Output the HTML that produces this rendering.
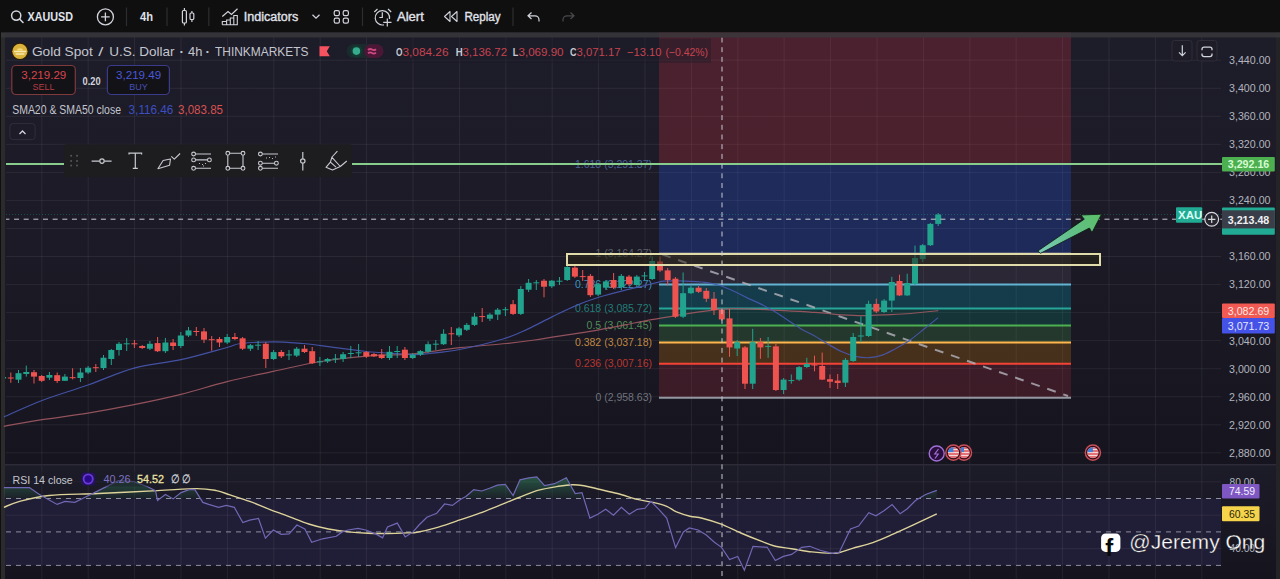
<!DOCTYPE html>
<html><head><meta charset="utf-8"><title>XAUUSD chart</title>
<style>
html,body{margin:0;padding:0;background:#0f0f0f;overflow:hidden;width:1280px;height:579px}
svg{display:block;font-family:'Liberation Sans', Arial, sans-serif}
</style></head><body>
<svg width="1280" height="579" viewBox="0 0 1280 579">
<rect x="0" y="0" width="1280" height="579" fill="#0f0f0f"/>
<rect x="1" y="32.5" width="1279" height="546.5" fill="#2b2b2e"/>
<defs><linearGradient id="bgm" x1="0" y1="37" x2="0" y2="464" gradientUnits="userSpaceOnUse"><stop offset="0" stop-color="#1d1c29"/><stop offset="0.35" stop-color="#1c1b27"/><stop offset="1" stop-color="#16151f"/></linearGradient><linearGradient id="bgr" x1="0" y1="465" x2="0" y2="579" gradientUnits="userSpaceOnUse"><stop offset="0" stop-color="#1c1b28"/><stop offset="1" stop-color="#15141e"/></linearGradient></defs>
<rect x="5" y="32.5" width="1271" height="431.5" fill="url(#bgm)"/>
<rect x="5" y="464" width="1271" height="115" fill="url(#bgr)"/>
<rect x="1276" y="32.5" width="4" height="546.5" fill="#242427"/>
<rect x="5" y="498.5" width="1216" height="66.89999999999998" fill="#211e38" fill-opacity="0.95"/>
<path d="M41.8 37.5V464M41.8 465V579M88.2 37.5V464M88.2 465V579M134.6 37.5V464M134.6 465V579M181.0 37.5V464M181.0 465V579M227.4 37.5V464M227.4 465V579M273.8 37.5V464M273.8 465V579M320.2 37.5V464M320.2 465V579M366.6 37.5V464M366.6 465V579M413.0 37.5V464M413.0 465V579M459.4 37.5V464M459.4 465V579M505.8 37.5V464M505.8 465V579M552.2 37.5V464M552.2 465V579M598.6 37.5V464M598.6 465V579M645.0 37.5V464M645.0 465V579M691.4 37.5V464M691.4 465V579M737.8 37.5V464M737.8 465V579M784.2 37.5V464M784.2 465V579M830.6 37.5V464M830.6 465V579M877.0 37.5V464M877.0 465V579M923.4 37.5V464M923.4 465V579M969.8 37.5V464M969.8 465V579M1016.2 37.5V464M1016.2 465V579M1062.6 37.5V464M1062.6 465V579M1109.0 37.5V464M1109.0 465V579M1155.4 37.5V464M1155.4 465V579M1201.8 37.5V464M1201.8 465V579M6 452.8H1221M6 424.8H1221M6 396.7H1221M6 368.7H1221M6 340.6H1221M6 312.6H1221M6 284.6H1221M6 256.5H1221M6 228.5H1221M6 200.4H1221M6 172.4H1221M6 144.3H1221M6 116.3H1221M6 88.3H1221M6 60.2H1221M6 481.8H1221M6 515.2H1221M6 548.7H1221" stroke="#ffffff" stroke-opacity="0.065" stroke-width="1" fill="none"/>
<rect x="5" y="464" width="1271" height="1.5" fill="#2c2b36"/>
<rect x="659" y="32.5" width="412" height="131.9" fill="#f23645" fill-opacity="0.22"/>
<rect x="659" y="164.4" width="412" height="89.1" fill="#2962ff" fill-opacity="0.24"/>
<rect x="659" y="253.5" width="412" height="30.9" fill="#8a7a9a" fill-opacity="0.15"/>
<rect x="659" y="284.4" width="412" height="24.2" fill="#00bcd4" fill-opacity="0.22"/>
<rect x="659" y="308.6" width="412" height="17.0" fill="#089981" fill-opacity="0.22"/>
<rect x="659" y="325.6" width="412" height="17.0" fill="#4caf50" fill-opacity="0.22"/>
<rect x="659" y="342.6" width="412" height="21.0" fill="#ff9800" fill-opacity="0.2"/>
<rect x="659" y="363.7" width="412" height="34.0" fill="#f23645" fill-opacity="0.17"/>
<line x1="659" y1="253.5" x2="1071" y2="253.5" stroke="#787b86" stroke-width="2"/>
<line x1="659" y1="284.4" x2="1071" y2="284.4" stroke="#62b4d2" stroke-width="2"/>
<line x1="659" y1="308.6" x2="1071" y2="308.6" stroke="#26a69a" stroke-width="2"/>
<line x1="659" y1="325.6" x2="1071" y2="325.6" stroke="#4caf50" stroke-width="2"/>
<line x1="659" y1="342.6" x2="1071" y2="342.6" stroke="#ffb74d" stroke-width="2"/>
<line x1="659" y1="363.7" x2="1071" y2="363.7" stroke="#f44336" stroke-width="2"/>
<line x1="659" y1="397.7" x2="1071" y2="397.7" stroke="#9598a1" stroke-width="2"/>
<text x="652" y="257.3252311000004" font-size="10.5" fill="#787b86" text-anchor="end" fill-opacity="0.72">1 (3,164.27)</text>
<text x="652" y="288.1771905471999" font-size="10.5" fill="#4fc3f7" text-anchor="end" fill-opacity="0.72">0.786 (3,122.27)</text>
<text x="652" y="312.39742039360027" font-size="10.5" fill="#26a69a" text-anchor="end" fill-opacity="0.72">0.618 (3,085.72)</text>
<text x="652" y="329.40924849999993" font-size="10.5" fill="#66bb6a" text-anchor="end" fill-opacity="0.72">0.5 (3,061.45)</text>
<text x="652" y="346.42107660640005" font-size="10.5" fill="#ffb74d" text-anchor="end" fill-opacity="0.72">0.382 (3,037.18)</text>
<text x="652" y="367.46960968720015" font-size="10.5" fill="#f44336" text-anchor="end" fill-opacity="0.72">0.236 (3,007.16)</text>
<text x="652" y="401.4932658999999" font-size="10.5" fill="#9598a1" text-anchor="end" fill-opacity="0.72">0 (2,958.63)</text>
<text x="652" y="168.22938559360028" font-size="10.5" fill="#5d7fc0" text-anchor="end" fill-opacity="0.72">1.618 (3,291.37)</text>
<line x1="662" y1="254.4" x2="1068" y2="396" stroke="#b4b4bc" stroke-width="2" stroke-dasharray="9 8" opacity="0.8"/>
<path d="M3.8 426.3C10.1 425.2 28.0 421.9 42.0 419.7C56.0 417.5 72.7 415.6 88.0 413.1C103.3 410.6 118.5 407.8 134.0 404.7C149.5 401.6 165.5 398.2 181.0 394.4C196.5 390.5 211.5 385.5 227.0 381.6C242.5 377.7 258.6 374.5 274.2 371.1C289.8 367.8 305.5 364.0 320.9 361.5C336.3 359.0 356.6 357.2 366.5 356.2C376.4 355.1 372.2 355.6 380.0 355.2C387.8 354.8 399.9 355.1 413.2 353.9C426.4 352.6 444.0 349.4 459.5 347.7C475.0 346.0 493.7 344.8 506.2 343.5C518.7 342.2 524.0 341.5 534.5 340.0C545.0 338.5 558.3 336.3 569.0 334.6C579.7 332.9 589.6 331.4 598.8 329.8C608.0 328.2 616.7 326.5 624.4 325.0C632.1 323.5 638.4 322.0 645.0 320.8C651.6 319.6 657.2 318.8 663.8 317.7C670.4 316.6 677.6 315.3 684.5 314.2C691.4 313.1 699.5 312.0 705.3 311.2C711.1 310.4 714.5 309.8 719.1 309.4C723.7 309.0 726.0 308.7 732.9 308.7C739.8 308.7 751.3 309.0 760.5 309.4C769.7 309.8 780.0 310.4 788.2 310.8C796.5 311.2 803.4 311.7 810.0 312.1C816.6 312.6 822.4 313.0 827.6 313.5C832.9 314.0 835.7 314.5 841.5 314.9C847.3 315.2 855.3 315.6 862.2 315.6C869.1 315.6 874.9 315.2 882.9 314.9C890.9 314.5 901.3 314.2 910.5 313.5C919.7 312.8 933.6 311.2 938.2 310.7" fill="none" stroke="#a05862" stroke-width="1.2" opacity="0.9"/>
<path d="M4.0 416.9C10.3 414.2 28.0 405.8 42.0 400.5C56.0 395.2 72.7 390.4 88.0 385.0C103.3 379.6 118.5 372.3 134.0 368.1C149.5 363.9 165.5 363.1 181.0 359.7C196.5 356.3 217.0 350.2 227.0 347.5C237.0 344.8 233.1 344.4 241.0 343.5C248.9 342.6 263.9 341.8 274.2 341.8C284.5 341.8 295.1 342.9 302.9 343.5C310.7 344.1 312.8 344.6 320.9 345.6C329.0 346.6 343.7 348.7 351.3 349.7C358.9 350.7 361.7 351.0 366.5 351.5C371.3 352.0 372.2 352.0 380.0 352.5C387.8 353.0 404.9 354.4 413.2 354.6C421.5 354.8 422.3 354.4 430.0 353.5C437.7 352.6 447.3 351.9 459.5 349.5C471.7 347.1 491.6 342.4 503.0 339.0C514.4 335.6 519.4 332.8 527.6 329.1C535.9 325.4 544.4 320.5 552.5 316.6C560.6 312.7 568.3 308.8 576.0 305.6C583.7 302.4 590.7 299.8 598.8 297.3C606.9 294.8 616.7 292.3 624.4 290.4C632.1 288.4 638.4 287.2 645.0 285.6C651.6 284.1 657.2 281.9 663.8 281.1C670.4 280.4 677.6 280.9 684.5 281.1C691.4 281.3 699.5 281.7 705.3 282.4C711.1 283.1 714.5 283.8 719.1 285.2C723.7 286.6 728.3 288.6 732.9 290.7C737.5 292.8 742.1 295.4 746.7 297.6C751.3 299.8 755.9 301.6 760.5 303.9C765.1 306.2 769.8 308.8 774.4 311.5C779.0 314.2 783.6 317.4 788.2 320.4C792.8 323.4 797.7 326.9 802.0 329.4C806.3 331.9 809.5 333.2 813.8 335.6C818.1 338.0 823.0 341.2 827.6 343.9C832.2 346.5 836.9 349.4 841.5 351.5C846.1 353.6 850.7 355.3 855.3 356.3C859.9 357.3 864.5 357.9 869.1 357.7C873.7 357.5 878.3 356.5 882.9 354.9C887.5 353.3 892.1 350.5 896.7 348.0C901.3 345.5 905.9 342.9 910.5 339.7C915.1 336.5 919.8 332.4 924.4 328.7C929.0 325.0 935.9 319.5 938.2 317.6" fill="none" stroke="#4858b0" stroke-width="1.2" opacity="0.9"/>
<clipPath id="cc"><rect x="5" y="32.5" width="1216" height="432"/></clipPath><g clip-path="url(#cc)">
<rect x="2.6" y="374.0" width="1" height="7.0" fill="#22a38e"/>
<rect x="0.1" y="377.0" width="6" height="1.5" fill="#22a38e"/>
<rect x="10.3" y="372.5" width="1" height="10.3" fill="#ef5350"/>
<rect x="7.8" y="377.5" width="6" height="1.0" fill="#ef5350"/>
<rect x="18.0" y="370.0" width="1" height="13.0" fill="#22a38e"/>
<rect x="15.5" y="373.2" width="6" height="6.5" fill="#22a38e"/>
<rect x="25.8" y="365.6" width="1" height="11.0" fill="#22a38e"/>
<rect x="23.3" y="372.0" width="6" height="2.0" fill="#22a38e"/>
<rect x="33.5" y="370.0" width="1" height="13.5" fill="#ef5350"/>
<rect x="31.0" y="372.2" width="6" height="4.4" fill="#ef5350"/>
<rect x="41.2" y="375.0" width="1" height="7.0" fill="#ef5350"/>
<rect x="38.7" y="376.0" width="6" height="4.8" fill="#ef5350"/>
<rect x="48.9" y="372.0" width="1" height="8.0" fill="#22a38e"/>
<rect x="46.4" y="375.0" width="6" height="2.7" fill="#22a38e"/>
<rect x="56.7" y="372.5" width="1" height="10.5" fill="#ef5350"/>
<rect x="54.2" y="375.2" width="6" height="5.8" fill="#ef5350"/>
<rect x="64.4" y="374.0" width="1" height="7.0" fill="#22a38e"/>
<rect x="61.9" y="376.6" width="6" height="4.2" fill="#22a38e"/>
<rect x="72.1" y="368.3" width="1" height="11.1" fill="#ef5350"/>
<rect x="69.6" y="377.2" width="6" height="1.0" fill="#ef5350"/>
<rect x="79.9" y="368.0" width="1" height="14.0" fill="#22a38e"/>
<rect x="77.4" y="372.5" width="6" height="5.5" fill="#22a38e"/>
<rect x="87.6" y="366.0" width="1" height="8.0" fill="#22a38e"/>
<rect x="85.1" y="367.7" width="6" height="4.8" fill="#22a38e"/>
<rect x="95.3" y="364.0" width="1" height="8.0" fill="#ef5350"/>
<rect x="92.8" y="367.2" width="6" height="1.0" fill="#ef5350"/>
<rect x="103.0" y="355.0" width="1" height="15.0" fill="#22a38e"/>
<rect x="100.5" y="357.7" width="6" height="10.3" fill="#22a38e"/>
<rect x="110.8" y="349.0" width="1" height="16.0" fill="#22a38e"/>
<rect x="108.3" y="350.0" width="6" height="9.0" fill="#22a38e"/>
<rect x="118.5" y="342.0" width="1" height="13.6" fill="#22a38e"/>
<rect x="116.0" y="343.8" width="6" height="6.2" fill="#22a38e"/>
<rect x="126.2" y="338.0" width="1" height="13.0" fill="#22a38e"/>
<rect x="123.7" y="343.3" width="6" height="1.0" fill="#22a38e"/>
<rect x="133.9" y="340.0" width="1" height="8.0" fill="#ef5350"/>
<rect x="131.4" y="343.3" width="6" height="1.0" fill="#ef5350"/>
<rect x="141.7" y="345.0" width="1" height="4.0" fill="#ef5350"/>
<rect x="139.2" y="346.0" width="6" height="2.0" fill="#ef5350"/>
<rect x="149.4" y="341.0" width="1" height="9.0" fill="#22a38e"/>
<rect x="146.9" y="343.8" width="6" height="4.9" fill="#22a38e"/>
<rect x="157.1" y="337.0" width="1" height="15.0" fill="#ef5350"/>
<rect x="154.6" y="343.1" width="6" height="8.1" fill="#ef5350"/>
<rect x="164.9" y="338.0" width="1" height="15.0" fill="#22a38e"/>
<rect x="162.4" y="342.5" width="6" height="8.7" fill="#22a38e"/>
<rect x="172.6" y="339.0" width="1" height="11.0" fill="#ef5350"/>
<rect x="170.1" y="342.5" width="6" height="3.5" fill="#ef5350"/>
<rect x="180.3" y="332.0" width="1" height="16.0" fill="#22a38e"/>
<rect x="177.8" y="335.5" width="6" height="10.5" fill="#22a38e"/>
<rect x="188.0" y="327.0" width="1" height="10.0" fill="#22a38e"/>
<rect x="185.5" y="330.4" width="6" height="5.1" fill="#22a38e"/>
<rect x="195.8" y="327.0" width="1" height="9.0" fill="#ef5350"/>
<rect x="193.3" y="331.0" width="6" height="1.0" fill="#ef5350"/>
<rect x="203.5" y="328.0" width="1" height="15.0" fill="#ef5350"/>
<rect x="201.0" y="331.4" width="6" height="8.3" fill="#ef5350"/>
<rect x="211.2" y="336.0" width="1" height="14.7" fill="#ef5350"/>
<rect x="208.7" y="339.2" width="6" height="1.0" fill="#ef5350"/>
<rect x="219.0" y="337.0" width="1" height="10.0" fill="#ef5350"/>
<rect x="216.5" y="339.0" width="6" height="3.5" fill="#ef5350"/>
<rect x="226.7" y="334.0" width="1" height="10.0" fill="#22a38e"/>
<rect x="224.2" y="337.0" width="6" height="5.5" fill="#22a38e"/>
<rect x="234.4" y="333.0" width="1" height="7.0" fill="#ef5350"/>
<rect x="231.9" y="337.0" width="6" height="2.0" fill="#ef5350"/>
<rect x="242.1" y="337.0" width="1" height="13.0" fill="#ef5350"/>
<rect x="239.6" y="338.3" width="6" height="10.4" fill="#ef5350"/>
<rect x="249.9" y="344.0" width="1" height="7.0" fill="#22a38e"/>
<rect x="247.4" y="345.2" width="6" height="3.5" fill="#22a38e"/>
<rect x="257.6" y="341.0" width="1" height="9.0" fill="#22a38e"/>
<rect x="255.1" y="344.7" width="6" height="1.0" fill="#22a38e"/>
<rect x="265.3" y="342.0" width="1" height="26.0" fill="#ef5350"/>
<rect x="262.8" y="343.8" width="6" height="15.2" fill="#ef5350"/>
<rect x="273.1" y="350.0" width="1" height="10.0" fill="#22a38e"/>
<rect x="270.6" y="352.1" width="6" height="6.9" fill="#22a38e"/>
<rect x="280.8" y="350.0" width="1" height="8.0" fill="#ef5350"/>
<rect x="278.3" y="352.0" width="6" height="4.3" fill="#ef5350"/>
<rect x="288.5" y="350.0" width="1" height="10.0" fill="#22a38e"/>
<rect x="286.0" y="354.4" width="6" height="1.0" fill="#22a38e"/>
<rect x="296.2" y="347.0" width="1" height="10.0" fill="#22a38e"/>
<rect x="293.7" y="348.7" width="6" height="6.9" fill="#22a38e"/>
<rect x="304.0" y="345.0" width="1" height="8.0" fill="#ef5350"/>
<rect x="301.5" y="348.7" width="6" height="3.3" fill="#ef5350"/>
<rect x="311.7" y="347.0" width="1" height="17.0" fill="#ef5350"/>
<rect x="309.2" y="351.2" width="6" height="12.0" fill="#ef5350"/>
<rect x="319.4" y="357.0" width="1" height="9.0" fill="#22a38e"/>
<rect x="316.9" y="361.3" width="6" height="1.0" fill="#22a38e"/>
<rect x="327.1" y="358.0" width="1" height="5.0" fill="#22a38e"/>
<rect x="324.6" y="359.0" width="6" height="2.4" fill="#22a38e"/>
<rect x="334.9" y="354.0" width="1" height="9.0" fill="#22a38e"/>
<rect x="332.4" y="358.5" width="6" height="1.0" fill="#22a38e"/>
<rect x="342.6" y="352.0" width="1" height="10.0" fill="#22a38e"/>
<rect x="340.1" y="354.2" width="6" height="4.8" fill="#22a38e"/>
<rect x="350.3" y="346.0" width="1" height="12.0" fill="#22a38e"/>
<rect x="347.8" y="353.0" width="6" height="1.0" fill="#22a38e"/>
<rect x="358.1" y="344.0" width="1" height="13.0" fill="#22a38e"/>
<rect x="355.6" y="352.3" width="6" height="1.0" fill="#22a38e"/>
<rect x="365.8" y="351.0" width="1" height="7.0" fill="#ef5350"/>
<rect x="363.3" y="352.1" width="6" height="4.4" fill="#ef5350"/>
<rect x="373.5" y="353.0" width="1" height="4.0" fill="#ef5350"/>
<rect x="371.0" y="354.1" width="6" height="2.3" fill="#ef5350"/>
<rect x="381.2" y="349.0" width="1" height="10.0" fill="#ef5350"/>
<rect x="378.7" y="354.6" width="6" height="3.4" fill="#ef5350"/>
<rect x="389.0" y="346.0" width="1" height="14.0" fill="#22a38e"/>
<rect x="386.5" y="351.8" width="6" height="6.2" fill="#22a38e"/>
<rect x="396.7" y="346.0" width="1" height="12.0" fill="#22a38e"/>
<rect x="394.2" y="351.0" width="6" height="1.0" fill="#22a38e"/>
<rect x="404.4" y="347.0" width="1" height="13.0" fill="#ef5350"/>
<rect x="401.9" y="349.7" width="6" height="8.3" fill="#ef5350"/>
<rect x="412.2" y="353.0" width="1" height="6.0" fill="#22a38e"/>
<rect x="409.7" y="354.6" width="6" height="3.4" fill="#22a38e"/>
<rect x="419.9" y="350.0" width="1" height="6.0" fill="#22a38e"/>
<rect x="417.4" y="351.1" width="6" height="3.5" fill="#22a38e"/>
<rect x="427.6" y="341.4" width="1" height="11.6" fill="#22a38e"/>
<rect x="425.1" y="344.2" width="6" height="7.6" fill="#22a38e"/>
<rect x="435.3" y="340.0" width="1" height="10.0" fill="#22a38e"/>
<rect x="432.8" y="343.7" width="6" height="1.0" fill="#22a38e"/>
<rect x="443.1" y="329.3" width="1" height="15.7" fill="#22a38e"/>
<rect x="440.6" y="333.8" width="6" height="10.4" fill="#22a38e"/>
<rect x="450.8" y="327.0" width="1" height="18.0" fill="#ef5350"/>
<rect x="448.3" y="333.3" width="6" height="1.0" fill="#ef5350"/>
<rect x="458.5" y="327.0" width="1" height="10.0" fill="#22a38e"/>
<rect x="456.0" y="328.4" width="6" height="6.9" fill="#22a38e"/>
<rect x="466.3" y="323.0" width="1" height="8.0" fill="#22a38e"/>
<rect x="463.8" y="324.9" width="6" height="4.9" fill="#22a38e"/>
<rect x="474.0" y="313.0" width="1" height="13.0" fill="#22a38e"/>
<rect x="471.5" y="316.6" width="6" height="8.3" fill="#22a38e"/>
<rect x="481.7" y="308.0" width="1" height="14.0" fill="#ef5350"/>
<rect x="479.2" y="316.1" width="6" height="1.0" fill="#ef5350"/>
<rect x="489.4" y="313.0" width="1" height="8.0" fill="#22a38e"/>
<rect x="486.9" y="314.6" width="6" height="4.1" fill="#22a38e"/>
<rect x="497.2" y="308.0" width="1" height="12.0" fill="#22a38e"/>
<rect x="494.7" y="309.7" width="6" height="4.9" fill="#22a38e"/>
<rect x="504.9" y="307.0" width="1" height="9.0" fill="#22a38e"/>
<rect x="502.4" y="309.2" width="6" height="1.0" fill="#22a38e"/>
<rect x="512.6" y="300.0" width="1" height="15.0" fill="#ef5350"/>
<rect x="510.1" y="304.2" width="6" height="9.7" fill="#ef5350"/>
<rect x="520.3" y="286.0" width="1" height="29.0" fill="#22a38e"/>
<rect x="517.8" y="289.0" width="6" height="24.9" fill="#22a38e"/>
<rect x="528.1" y="279.0" width="1" height="13.0" fill="#22a38e"/>
<rect x="525.6" y="282.8" width="6" height="6.9" fill="#22a38e"/>
<rect x="535.8" y="280.0" width="1" height="10.0" fill="#22a38e"/>
<rect x="533.3" y="282.3" width="6" height="1.0" fill="#22a38e"/>
<rect x="543.5" y="279.0" width="1" height="18.3" fill="#ef5350"/>
<rect x="541.0" y="280.7" width="6" height="6.0" fill="#ef5350"/>
<rect x="551.3" y="280.0" width="1" height="8.0" fill="#22a38e"/>
<rect x="548.8" y="280.7" width="6" height="5.6" fill="#22a38e"/>
<rect x="559.0" y="277.0" width="1" height="8.0" fill="#22a38e"/>
<rect x="556.5" y="280.7" width="6" height="1.0" fill="#22a38e"/>
<rect x="566.7" y="262.0" width="1" height="19.0" fill="#22a38e"/>
<rect x="564.2" y="267.0" width="6" height="13.0" fill="#22a38e"/>
<rect x="574.4" y="265.5" width="1" height="12.5" fill="#ef5350"/>
<rect x="571.9" y="267.6" width="6" height="9.0" fill="#ef5350"/>
<rect x="582.2" y="270.0" width="1" height="11.0" fill="#ef5350"/>
<rect x="579.7" y="276.1" width="6" height="1.0" fill="#ef5350"/>
<rect x="589.9" y="274.0" width="1" height="23.0" fill="#ef5350"/>
<rect x="587.4" y="275.9" width="6" height="19.3" fill="#ef5350"/>
<rect x="597.6" y="283.0" width="1" height="13.0" fill="#22a38e"/>
<rect x="595.1" y="284.2" width="6" height="10.4" fill="#22a38e"/>
<rect x="605.4" y="280.0" width="1" height="10.0" fill="#22a38e"/>
<rect x="602.9" y="281.4" width="6" height="6.3" fill="#22a38e"/>
<rect x="613.1" y="273.0" width="1" height="16.0" fill="#ef5350"/>
<rect x="610.6" y="280.0" width="6" height="7.7" fill="#ef5350"/>
<rect x="620.8" y="274.0" width="1" height="16.0" fill="#22a38e"/>
<rect x="618.3" y="275.9" width="6" height="11.1" fill="#22a38e"/>
<rect x="628.5" y="275.0" width="1" height="11.0" fill="#ef5350"/>
<rect x="626.0" y="276.6" width="6" height="7.6" fill="#ef5350"/>
<rect x="636.3" y="275.0" width="1" height="12.0" fill="#22a38e"/>
<rect x="633.8" y="276.6" width="6" height="8.4" fill="#22a38e"/>
<rect x="644.0" y="272.0" width="1" height="8.0" fill="#22a38e"/>
<rect x="641.5" y="275.4" width="6" height="1.0" fill="#22a38e"/>
<rect x="651.7" y="256.6" width="1" height="23.4" fill="#22a38e"/>
<rect x="649.2" y="261.0" width="6" height="18.0" fill="#22a38e"/>
<rect x="659.5" y="256.6" width="1" height="15.4" fill="#ef5350"/>
<rect x="657.0" y="261.5" width="6" height="9.0" fill="#ef5350"/>
<rect x="667.2" y="268.0" width="1" height="17.6" fill="#ef5350"/>
<rect x="664.7" y="270.4" width="6" height="9.6" fill="#ef5350"/>
<rect x="674.9" y="277.0" width="1" height="41.0" fill="#ef5350"/>
<rect x="672.4" y="278.7" width="6" height="38.0" fill="#ef5350"/>
<rect x="682.6" y="272.5" width="1" height="45.5" fill="#22a38e"/>
<rect x="680.1" y="293.2" width="6" height="23.5" fill="#22a38e"/>
<rect x="690.4" y="286.0" width="1" height="8.0" fill="#22a38e"/>
<rect x="687.9" y="287.7" width="6" height="5.5" fill="#22a38e"/>
<rect x="698.1" y="286.0" width="1" height="7.0" fill="#ef5350"/>
<rect x="695.6" y="287.7" width="6" height="4.1" fill="#ef5350"/>
<rect x="705.8" y="288.0" width="1" height="14.0" fill="#ef5350"/>
<rect x="703.3" y="290.8" width="6" height="7.9" fill="#ef5350"/>
<rect x="713.5" y="292.0" width="1" height="23.0" fill="#ef5350"/>
<rect x="711.0" y="298.7" width="6" height="11.3" fill="#ef5350"/>
<rect x="721.3" y="308.0" width="1" height="13.0" fill="#ef5350"/>
<rect x="718.8" y="310.0" width="6" height="9.4" fill="#ef5350"/>
<rect x="729.0" y="309.0" width="1" height="47.8" fill="#ef5350"/>
<rect x="726.5" y="318.4" width="6" height="29.0" fill="#ef5350"/>
<rect x="736.7" y="340.0" width="1" height="16.0" fill="#22a38e"/>
<rect x="734.2" y="342.2" width="6" height="6.3" fill="#22a38e"/>
<rect x="744.5" y="346.0" width="1" height="43.0" fill="#ef5350"/>
<rect x="742.0" y="347.4" width="6" height="36.3" fill="#ef5350"/>
<rect x="752.2" y="328.8" width="1" height="60.2" fill="#22a38e"/>
<rect x="749.7" y="342.2" width="6" height="41.5" fill="#22a38e"/>
<rect x="759.9" y="338.0" width="1" height="20.8" fill="#ef5350"/>
<rect x="757.4" y="342.2" width="6" height="5.2" fill="#ef5350"/>
<rect x="767.6" y="337.0" width="1" height="20.8" fill="#22a38e"/>
<rect x="765.1" y="345.9" width="6" height="1.0" fill="#22a38e"/>
<rect x="775.4" y="344.0" width="1" height="47.0" fill="#ef5350"/>
<rect x="772.9" y="346.4" width="6" height="43.6" fill="#ef5350"/>
<rect x="783.1" y="378.0" width="1" height="16.0" fill="#22a38e"/>
<rect x="780.6" y="379.6" width="6" height="10.4" fill="#22a38e"/>
<rect x="790.8" y="374.4" width="1" height="9.3" fill="#22a38e"/>
<rect x="788.3" y="380.1" width="6" height="1.0" fill="#22a38e"/>
<rect x="798.6" y="366.0" width="1" height="15.0" fill="#22a38e"/>
<rect x="796.1" y="367.1" width="6" height="12.5" fill="#22a38e"/>
<rect x="806.3" y="357.8" width="1" height="10.2" fill="#22a38e"/>
<rect x="803.8" y="364.0" width="6" height="3.0" fill="#22a38e"/>
<rect x="814.0" y="355.7" width="1" height="15.6" fill="#ef5350"/>
<rect x="811.5" y="364.5" width="6" height="1.0" fill="#ef5350"/>
<rect x="821.7" y="352.6" width="1" height="27.4" fill="#ef5350"/>
<rect x="819.2" y="366.0" width="6" height="13.6" fill="#ef5350"/>
<rect x="829.5" y="374.4" width="1" height="13.6" fill="#ef5350"/>
<rect x="827.0" y="379.2" width="6" height="2.5" fill="#ef5350"/>
<rect x="837.2" y="374.0" width="1" height="15.0" fill="#ef5350"/>
<rect x="834.7" y="380.6" width="6" height="2.4" fill="#ef5350"/>
<rect x="844.9" y="358.0" width="1" height="29.0" fill="#22a38e"/>
<rect x="842.4" y="359.9" width="6" height="22.8" fill="#22a38e"/>
<rect x="852.7" y="333.0" width="1" height="29.0" fill="#22a38e"/>
<rect x="850.2" y="337.0" width="6" height="24.0" fill="#22a38e"/>
<rect x="860.4" y="316.3" width="1" height="25.9" fill="#22a38e"/>
<rect x="857.9" y="335.5" width="6" height="1.0" fill="#22a38e"/>
<rect x="868.1" y="300.7" width="1" height="36.3" fill="#22a38e"/>
<rect x="865.6" y="303.9" width="6" height="32.1" fill="#22a38e"/>
<rect x="875.8" y="298.7" width="1" height="14.3" fill="#ef5350"/>
<rect x="873.3" y="303.9" width="6" height="7.6" fill="#ef5350"/>
<rect x="883.6" y="299.0" width="1" height="14.0" fill="#22a38e"/>
<rect x="881.1" y="300.6" width="6" height="11.4" fill="#22a38e"/>
<rect x="891.3" y="276.8" width="1" height="35.2" fill="#22a38e"/>
<rect x="888.8" y="282.0" width="6" height="18.6" fill="#22a38e"/>
<rect x="899.0" y="274.7" width="1" height="21.3" fill="#ef5350"/>
<rect x="896.5" y="281.0" width="6" height="14.4" fill="#ef5350"/>
<rect x="906.7" y="273.7" width="1" height="22.3" fill="#22a38e"/>
<rect x="904.2" y="283.0" width="6" height="12.4" fill="#22a38e"/>
<rect x="914.5" y="245.6" width="1" height="39.4" fill="#22a38e"/>
<rect x="912.0" y="258.0" width="6" height="26.0" fill="#22a38e"/>
<rect x="922.2" y="244.0" width="1" height="18.0" fill="#22a38e"/>
<rect x="919.7" y="245.2" width="6" height="13.9" fill="#22a38e"/>
<rect x="929.9" y="223.0" width="1" height="23.0" fill="#22a38e"/>
<rect x="927.4" y="223.9" width="6" height="21.3" fill="#22a38e"/>
<rect x="937.7" y="213.0" width="1" height="13.0" fill="#22a38e"/>
<rect x="935.2" y="214.5" width="6" height="9.4" fill="#22a38e"/>
</g>
<rect x="567" y="254" width="533" height="11" fill="#2a2614" fill-opacity="0.5" stroke="#e2dcaa" stroke-width="2"/>
<line x1="6" y1="164" x2="1222" y2="164" stroke="#88cd8b" stroke-width="2"/>
<line x1="6" y1="214.5" x2="1222" y2="214.5" stroke="#26a69a" stroke-width="1" stroke-dasharray="1 2" opacity="0.35"/>
<line x1="6" y1="219.2" x2="1222" y2="219.2" stroke="#c8cad2" stroke-width="1" stroke-dasharray="5 4.65" stroke-dashoffset="1.6"/>
<line x1="722" y1="37.5" x2="722" y2="579" stroke="#c8cad2" stroke-width="1" stroke-dasharray="5 4.7"/>
<defs><linearGradient id="arw" x1="1039" y1="252" x2="1100" y2="215" gradientUnits="userSpaceOnUse"><stop offset="0" stop-color="#7cc8b8"/><stop offset="0.5" stop-color="#62c08a"/><stop offset="1" stop-color="#5cbf6a"/></linearGradient></defs><path d="M1037.8 251L1084.3 219.2L1081 215L1101.5 214.2L1092 232.5L1089.4 228L1040.5 253.3Z" fill="url(#arw)" stroke="#0c1a10" stroke-width="0.8" stroke-linejoin="round"/>
<circle cx="936.7" cy="453.5" r="7.5" fill="#2a0f3d" stroke="#a070d8" stroke-width="1.4"/>
<path d="M938.5 449L934.8 454H938.2L935 458.5" fill="none" stroke="#a070d8" stroke-width="1.2"/>
<circle cx="964" cy="452.6" r="7.6" fill="#3a0e18" stroke="#c8505a" stroke-width="1.4"/>
<clipPath id="f964"><circle cx="964" cy="452.6" r="5.6"/></clipPath>
<g clip-path="url(#f964)"><rect x="958" y="446.6" width="12" height="12" fill="#f3d6d6"/><path d="M958 448H970M958 451H970M958 454H970M958 457H970" stroke="#e0505a" stroke-width="1.4"/><rect x="958" y="446.6" width="6" height="5.5" fill="#3f7fd8"/></g>
<circle cx="953.4" cy="452.6" r="7.6" fill="#3a0e18" stroke="#c8505a" stroke-width="1.4"/>
<clipPath id="f953"><circle cx="953.4" cy="452.6" r="5.6"/></clipPath>
<g clip-path="url(#f953)"><rect x="947.4" y="446.6" width="12" height="12" fill="#f3d6d6"/><path d="M947.4 448H959.4M947.4 451H959.4M947.4 454H959.4M947.4 457H959.4" stroke="#e0505a" stroke-width="1.4"/><rect x="947.4" y="446.6" width="6" height="5.5" fill="#3f7fd8"/></g>
<circle cx="1092.9" cy="452.6" r="7.6" fill="#3a0e18" stroke="#c8505a" stroke-width="1.4"/>
<clipPath id="f1092"><circle cx="1092.9" cy="452.6" r="5.6"/></clipPath>
<g clip-path="url(#f1092)"><rect x="1086.9" y="446.6" width="12" height="12" fill="#f3d6d6"/><path d="M1086.9 448H1098.9M1086.9 451H1098.9M1086.9 454H1098.9M1086.9 457H1098.9" stroke="#e0505a" stroke-width="1.4"/><rect x="1086.9" y="446.6" width="6" height="5.5" fill="#3f7fd8"/></g>
<path d="M6 498.5H1221M6 531.9H1221M6 565.4H1221" stroke="#8e8fa0" stroke-width="1" stroke-dasharray="5 5"/>
<defs><linearGradient id="gob" x1="0" y1="474" x2="0" y2="498.5" gradientUnits="userSpaceOnUse"><stop offset="0" stop-color="#32925e" stop-opacity="0.55"/><stop offset="1" stop-color="#32925e" stop-opacity="0.06"/></linearGradient><clipPath id="ob"><rect x="0" y="465" width="1280" height="33.5"/></clipPath></defs>
<polygon points="3.9,487.6 29.5,487.6 39.4,494.5 57.1,504.4 65.0,501.4 74.8,502.4 86.6,496.5 102.4,488.6 118.1,480.7 133.9,481.7 147.6,486.7 155.5,490.6 157.5,500.4 165.4,494.5 173.2,498.9 181.1,492.6 189.0,489.6 194.9,489.6 202.8,502.4 208.7,504.4 218.5,507.3 226.4,505.4 234.3,507.3 242.8,522.5 249.7,520.1 258.5,518.5 265.4,538.2 273.3,530.0 281.2,534.3 289.1,533.9 296.9,525.0 304.8,529.0 311.7,542.2 322.5,538.8 336.3,536.3 342.2,531.9 348.1,530.0 358.0,528.4 365.8,530.0 375.7,533.9 382.6,537.8 387.5,527.0 397.3,523.1 405.2,536.9 413.1,531.9 419.0,525.0 426.9,517.2 436.7,513.2 444.6,504.0 452.4,505.4 460.3,499.4 465.9,496.5 473.8,489.6 481.7,491.0 489.5,488.2 497.4,485.1 505.3,484.3 513.1,495.5 520.0,479.8 528.9,477.8 536.8,476.8 544.6,485.7 554.5,483.7 566.3,477.8 575.2,493.5 582.0,492.6 589.9,518.1 597.8,514.2 605.7,509.3 613.5,515.2 621.4,507.3 629.3,514.2 637.2,509.3 645.0,508.3 650.9,501.4 658.8,509.3 666.7,518.1 675.6,547.7 683.4,531.9 689.3,528.0 698.1,530.0 706.3,535.1 714.4,542.2 721.5,547.3 729.6,559.5 737.7,556.4 744.4,570.2 753.0,546.3 767.2,547.3 775.3,560.5 783.4,556.4 791.6,554.4 801.7,547.3 809.8,546.3 820.0,550.3 832.2,553.4 839.3,552.3 850.5,529.0 858.6,526.0 868.8,512.7 875.9,515.8 884.0,510.7 892.1,504.6 900.2,513.8 907.3,508.7 915.5,500.5 925.6,494.5 936.8,490.4 936.8,498.5 3.9,498.5" fill="url(#gob)" clip-path="url(#ob)"/>
<path d="M3.9 507.3C6.5 506.3 12.1 503.4 19.7 501.4C27.2 499.4 36.1 496.8 49.2 495.5C62.3 494.2 80.4 494.3 98.4 493.5C116.5 492.7 141.1 491.4 157.5 490.6C173.9 489.8 187.1 488.6 196.9 488.6C206.7 488.6 211.0 489.6 216.5 490.6C222.0 491.7 224.5 493.1 230.0 494.9C235.5 496.7 243.1 499.0 249.7 501.4C256.3 503.8 262.8 506.8 269.4 509.3C276.0 511.8 282.6 514.1 289.1 516.6C295.7 519.1 302.1 521.9 308.7 524.0C315.2 526.1 321.8 527.7 328.4 529.0C335.0 530.3 341.5 531.2 348.1 531.9C354.7 532.6 361.2 533.0 367.8 533.3C374.4 533.6 380.9 533.6 387.5 533.5C394.1 533.4 402.3 533.1 407.2 532.9C412.1 532.7 412.1 533.2 417.0 532.3C421.9 531.4 430.1 529.5 436.7 527.6C443.3 525.7 449.2 523.5 456.4 521.1C463.6 518.7 472.5 515.8 479.7 513.2C486.9 510.6 492.8 508.0 499.4 505.4C505.9 502.8 512.5 500.0 519.0 497.5C525.5 495.0 532.1 492.1 538.7 490.2C545.3 488.3 552.8 487.2 558.4 486.3C564.0 485.4 567.9 484.8 572.2 484.7C576.5 484.6 579.7 485.0 584.0 485.7C588.3 486.4 592.2 487.7 597.8 489.0C603.4 490.3 610.9 491.8 617.5 493.5C624.1 495.2 631.3 497.9 637.2 499.4C643.1 500.9 648.0 501.2 652.9 502.4C657.8 503.5 662.8 504.7 666.7 506.3C670.6 507.9 672.6 510.2 676.5 511.9C680.4 513.5 685.7 515.2 690.0 516.2C694.3 517.2 697.1 516.9 702.2 518.2C707.3 519.5 714.1 521.4 720.5 523.9C726.9 526.4 734.0 530.1 740.8 533.0C747.6 535.9 755.4 539.0 761.1 541.2C766.9 543.4 770.2 545.0 775.3 546.3C780.4 547.5 785.5 547.8 791.6 548.7C797.7 549.6 805.1 551.1 811.9 551.9C818.7 552.7 827.5 553.3 832.2 553.4C836.9 553.5 836.9 553.1 840.3 552.3C843.7 551.4 847.1 549.9 852.5 548.3C857.9 546.7 866.0 545.0 872.8 542.6C879.6 540.2 886.3 537.1 893.1 534.1C899.9 531.1 906.1 528.3 913.4 524.9C920.7 521.5 932.9 515.6 936.8 513.8" fill="none" stroke="#dcd29a" stroke-width="1.4"/>
<polyline points="3.9,487.6 29.5,487.6 39.4,494.5 57.1,504.4 65.0,501.4 74.8,502.4 86.6,496.5 102.4,488.6 118.1,480.7 133.9,481.7 147.6,486.7 155.5,490.6 157.5,500.4 165.4,494.5 173.2,498.9 181.1,492.6 189.0,489.6 194.9,489.6 202.8,502.4 208.7,504.4 218.5,507.3 226.4,505.4 234.3,507.3 242.8,522.5 249.7,520.1 258.5,518.5 265.4,538.2 273.3,530.0 281.2,534.3 289.1,533.9 296.9,525.0 304.8,529.0 311.7,542.2 322.5,538.8 336.3,536.3 342.2,531.9 348.1,530.0 358.0,528.4 365.8,530.0 375.7,533.9 382.6,537.8 387.5,527.0 397.3,523.1 405.2,536.9 413.1,531.9 419.0,525.0 426.9,517.2 436.7,513.2 444.6,504.0 452.4,505.4 460.3,499.4 465.9,496.5 473.8,489.6 481.7,491.0 489.5,488.2 497.4,485.1 505.3,484.3 513.1,495.5 520.0,479.8 528.9,477.8 536.8,476.8 544.6,485.7 554.5,483.7 566.3,477.8 575.2,493.5 582.0,492.6 589.9,518.1 597.8,514.2 605.7,509.3 613.5,515.2 621.4,507.3 629.3,514.2 637.2,509.3 645.0,508.3 650.9,501.4 658.8,509.3 666.7,518.1 675.6,547.7 683.4,531.9 689.3,528.0 698.1,530.0 706.3,535.1 714.4,542.2 721.5,547.3 729.6,559.5 737.7,556.4 744.4,570.2 753.0,546.3 767.2,547.3 775.3,560.5 783.4,556.4 791.6,554.4 801.7,547.3 809.8,546.3 820.0,550.3 832.2,553.4 839.3,552.3 850.5,529.0 858.6,526.0 868.8,512.7 875.9,515.8 884.0,510.7 892.1,504.6 900.2,513.8 907.3,508.7 915.5,500.5 925.6,494.5 936.8,490.4" fill="none" stroke="#7068b4" stroke-width="1.2"/>
<rect x="8" y="471.5" width="188" height="15" fill="#1c1b28" fill-opacity="0.5"/>
<text x="12.5" y="483.9" font-size="11" fill="#c3c6ce" textLength="60.3" lengthAdjust="spacingAndGlyphs">RSI 14 close</text>
<rect x="81.5" y="472.5" width="13.5" height="13" rx="2" fill="#24125e"/><circle cx="88.2" cy="479" r="4.6" fill="#2a0a8a" stroke="#6a3ad8" stroke-width="1.8"/>
<text x="103.4" y="483.3" font-size="11.5" fill="#7e72c0" textLength="27" lengthAdjust="spacingAndGlyphs">40.26</text>
<text x="137" y="483.3" font-size="11.5" fill="#ece2a4" textLength="27" lengthAdjust="spacingAndGlyphs" stroke="#ece2a4" stroke-width="0.3">54.52</text>
<text x="171" y="483.3" font-size="11.5" fill="#d1d4dc" textLength="19" lengthAdjust="spacingAndGlyphs" stroke="#d1d4dc" stroke-width="0.3">∅ ∅</text>
<text x="1270.5" y="456.7184000000001" font-size="11" fill="#b2b5be" text-anchor="end" textLength="41.5" lengthAdjust="spacingAndGlyphs">2,880.00</text>
<text x="1270.5" y="428.67560000000014" font-size="11" fill="#b2b5be" text-anchor="end" textLength="41.5" lengthAdjust="spacingAndGlyphs">2,920.00</text>
<text x="1270.5" y="400.6328000000002" font-size="11" fill="#b2b5be" text-anchor="end" textLength="41.5" lengthAdjust="spacingAndGlyphs">2,960.00</text>
<text x="1270.5" y="372.59000000000003" font-size="11" fill="#b2b5be" text-anchor="end" textLength="41.5" lengthAdjust="spacingAndGlyphs">3,000.00</text>
<text x="1270.5" y="344.5472000000003" font-size="11" fill="#b2b5be" text-anchor="end" textLength="41.5" lengthAdjust="spacingAndGlyphs">3,040.00</text>
<text x="1270.5" y="316.50440000000015" font-size="11" fill="#b2b5be" text-anchor="end" textLength="41.5" lengthAdjust="spacingAndGlyphs">3,080.00</text>
<text x="1270.5" y="288.4616" font-size="11" fill="#b2b5be" text-anchor="end" textLength="41.5" lengthAdjust="spacingAndGlyphs">3,120.00</text>
<text x="1270.5" y="260.41880000000026" font-size="11" fill="#b2b5be" text-anchor="end" textLength="41.5" lengthAdjust="spacingAndGlyphs">3,160.00</text>
<text x="1270.5" y="232.37600000000012" font-size="11" fill="#b2b5be" text-anchor="end" textLength="41.5" lengthAdjust="spacingAndGlyphs">3,200.00</text>
<text x="1270.5" y="204.3332000000004" font-size="11" fill="#b2b5be" text-anchor="end" textLength="41.5" lengthAdjust="spacingAndGlyphs">3,240.00</text>
<text x="1270.5" y="176.29040000000023" font-size="11" fill="#b2b5be" text-anchor="end" textLength="41.5" lengthAdjust="spacingAndGlyphs">3,280.00</text>
<text x="1270.5" y="148.24760000000006" font-size="11" fill="#b2b5be" text-anchor="end" textLength="41.5" lengthAdjust="spacingAndGlyphs">3,320.00</text>
<text x="1270.5" y="120.20480000000035" font-size="11" fill="#b2b5be" text-anchor="end" textLength="41.5" lengthAdjust="spacingAndGlyphs">3,360.00</text>
<text x="1270.5" y="92.16200000000018" font-size="11" fill="#b2b5be" text-anchor="end" textLength="41.5" lengthAdjust="spacingAndGlyphs">3,400.00</text>
<text x="1270.5" y="64.1192" font-size="11" fill="#b2b5be" text-anchor="end" textLength="41.5" lengthAdjust="spacingAndGlyphs">3,440.00</text>
<text x="1255" y="485.7" font-size="11" fill="#b2b5be" text-anchor="end" textLength="25.5" lengthAdjust="spacingAndGlyphs">80.00</text>
<text x="1255" y="552.4" font-size="11" fill="#b2b5be" text-anchor="end" textLength="25.5" lengthAdjust="spacingAndGlyphs">40.00</text>
<rect x="1222" y="484" width="37.5" height="14.5" rx="1" fill="#7e57c2"/>
<text x="1242" y="495.2" font-size="11.5" fill="#f3eefc" text-anchor="middle" textLength="26" lengthAdjust="spacingAndGlyphs">74.59</text>
<rect x="1222" y="506.2" width="37.5" height="15" rx="1" fill="#f5d34a"/>
<text x="1242" y="517.8" font-size="11.5" fill="#2a2610" text-anchor="middle" textLength="26" lengthAdjust="spacingAndGlyphs">60.35</text>
<rect x="1222" y="156.9" width="52.8" height="14.7" rx="1" fill="#4caf50"/>
<text x="1248.5" y="168.3" font-size="11.5" fill="#d4fbd0" text-anchor="middle" font-weight="bold" textLength="41.5" lengthAdjust="spacingAndGlyphs">3,292.16</text>
<rect x="1222" y="207.6" width="52.8" height="27.2" rx="1" fill="#22ab94"/>
<rect x="1222" y="210.3" width="52.8" height="18.1" fill="#3a3e48"/>
<text x="1248.5" y="223.5" font-size="11.5" fill="#f0f0f2" text-anchor="middle" font-weight="bold" textLength="41.5" lengthAdjust="spacingAndGlyphs">3,213.48</text>
<clipPath id="xau"><rect x="1176" y="207.3" width="26.2" height="15.5"/></clipPath>
<rect x="1176" y="207.3" width="26.2" height="15.5" rx="1" fill="#22ab94"/>
<g clip-path="url(#xau)"><text x="1178" y="219.3" font-size="11.5" fill="#d8fff4" font-weight="bold">XAUUSD</text></g>
<circle cx="1211.7" cy="219.3" r="6.9" fill="#28272f" stroke="#d8dae0" stroke-width="1.2"/><path d="M1211.7 215.6V223M1208 219.3H1215.4" stroke="#d8dae0" stroke-width="1.2"/>
<rect x="1222" y="303.6" width="52.8" height="14.3" rx="1" fill="#f05a52"/>
<text x="1248.5" y="314.8" font-size="11.5" fill="#fde6e2" text-anchor="middle" textLength="41.5" lengthAdjust="spacingAndGlyphs">3,082.69</text>
<rect x="1222" y="317.9" width="52.8" height="15.5" rx="1" fill="#4552e8"/>
<text x="1248.5" y="329.7" font-size="11.5" fill="#e6e8ff" text-anchor="middle" textLength="41.5" lengthAdjust="spacingAndGlyphs">3,071.73</text>
<rect x="1172" y="40.5" width="20" height="20.5" rx="2.5" fill="#1d1c27" stroke="#2e2d38" stroke-width="1"/>
<path d="M1182.3 45.3V55.6M1179 52.4L1182.3 55.7L1185.6 52.4" fill="none" stroke="#d1d4dc" stroke-width="1.2"/>
<rect x="1197" y="40.5" width="20" height="20.5" rx="2.5" fill="#1d1c27" stroke="#2e2d38" stroke-width="1"/>
<path d="M1202 50.3V49.3Q1202 47.2 1204.1 47.2H1209.9Q1212 47.2 1212 49.3V50.3M1202 53.5V54.5Q1202 56.6 1204.1 56.6H1209.9Q1212 56.6 1212 54.5V53.5" fill="none" stroke="#d1d4dc" stroke-width="1.3"/>
<rect x="1" y="32.5" width="1279" height="5" fill="#3a3a3c" fill-opacity="0.8"/>
<circle cx="16.2" cy="15.6" r="4.6" fill="none" stroke="#d1d4dc" stroke-width="1.5"/>
<line x1="19.6" y1="19" x2="23" y2="22.5" stroke="#d1d4dc" stroke-width="1.6" stroke-linecap="round"/>
<text x="27.5" y="20.7" font-size="12" fill="#e0e3eb" font-weight="bold" textLength="45.5" lengthAdjust="spacingAndGlyphs">XAUUSD</text>
<circle cx="105.4" cy="16.9" r="8" fill="none" stroke="#d1d4dc" stroke-width="1.3"/>
<path d="M105.4 12.6V21.2M101.1 16.9H109.7" stroke="#d1d4dc" stroke-width="1.3"/>
<line x1="126.5" y1="7.5" x2="126.5" y2="26" stroke="#2e2e30" stroke-width="1.2"/>
<line x1="167" y1="7.5" x2="167" y2="26" stroke="#2e2e30" stroke-width="1.2"/>
<line x1="208.8" y1="7.5" x2="208.8" y2="26" stroke="#2e2e30" stroke-width="1.2"/>
<line x1="362.5" y1="7.5" x2="362.5" y2="26" stroke="#2e2e30" stroke-width="1.2"/>
<line x1="513" y1="7.5" x2="513" y2="26" stroke="#2e2e30" stroke-width="1.2"/>
<text x="140" y="21.2" font-size="12.5" fill="#e0e3eb" font-weight="bold" textLength="13" lengthAdjust="spacingAndGlyphs">4h</text>
<path d="M184.4 8V10.5M184.4 23V25.6M191.9 11V13M191.9 19.5V22" stroke="#d1d4dc" stroke-width="1.2"/>
<rect x="182.4" y="10.5" width="4" height="12.5" rx="1" fill="none" stroke="#d1d4dc" stroke-width="1.2"/>
<rect x="190" y="13" width="3.8" height="6.5" rx="1" fill="none" stroke="#d1d4dc" stroke-width="1.2"/>
<path d="M222.3 16.5L228 11.5L231.5 14.5L237.5 8.8" fill="none" stroke="#d1d4dc" stroke-width="1.2"/>
<path d="M222.3 24.8H237.3V15.5H233.8V24.8M233.8 18H230.3V24.8M230.3 20H226.6V24.8M226.6 21.5H222.3V24.8" fill="none" stroke="#d1d4dc" stroke-width="1.1"/>
<text x="243.8" y="21.2" font-size="12.5" fill="#e0e3eb" textLength="54.5" lengthAdjust="spacingAndGlyphs" stroke="#e0e3eb" stroke-width="0.35">Indicators</text>
<path d="M312.5 14.8L316 18.2L319.5 14.8" fill="none" stroke="#d1d4dc" stroke-width="1.3"/>
<rect x="334.2" y="10.6" width="5.2" height="5" rx="1.6" fill="none" stroke="#d1d4dc" stroke-width="1.2"/>
<rect x="343.2" y="10.6" width="5.2" height="5" rx="1.6" fill="none" stroke="#d1d4dc" stroke-width="1.2"/>
<rect x="334.2" y="18.2" width="5.2" height="5" rx="1.6" fill="none" stroke="#d1d4dc" stroke-width="1.2"/>
<rect x="343.2" y="18.2" width="5.2" height="5" rx="1.6" fill="none" stroke="#d1d4dc" stroke-width="1.2"/>
<path d="M384 24.8A7.2 7.2 0 1 1 389.5 19" fill="none" stroke="#d1d4dc" stroke-width="1.2"/>
<path d="M382.3 12.3V17.5H379.3M374.3 12L377.5 9M391.2 12L388 9M387.3 18.4V26.6M383.2 22.4H391.5" fill="none" stroke="#d1d4dc" stroke-width="1.2"/>
<text x="396.9" y="21.2" font-size="12.5" fill="#e0e3eb" textLength="27" lengthAdjust="spacingAndGlyphs" stroke="#e0e3eb" stroke-width="0.35">Alert</text>
<path d="M450 11.5L444.5 16.5L450 21.5ZM457 11.5L451.5 16.5L457 21.5Z" fill="none" stroke="#d1d4dc" stroke-width="1.1" stroke-linejoin="round"/>
<text x="464.4" y="21.2" font-size="12.5" fill="#e0e3eb" textLength="36.2" lengthAdjust="spacingAndGlyphs" stroke="#e0e3eb" stroke-width="0.35">Replay</text>
<path d="M531.5 12.5L528 15.8L531.5 19M528.5 15.8H535A4 4 0 0 1 539 19.8V21.5" fill="none" stroke="#d1d4dc" stroke-width="1.2"/>
<path d="M570.5 12.5L574 15.8L570.5 19M573.5 15.8H567A4 4 0 0 0 563 19.8V21.5" fill="none" stroke="#4a4a4e" stroke-width="1.2"/>
<circle cx="19.9" cy="51.3" r="8.8" fill="#2a1d08"/><circle cx="19.9" cy="51.3" r="7.6" fill="#d9b13b"/>
<path d="M14 51.5H26M15.5 54H24.5" stroke="#f7e7b0" stroke-width="1.6"/>
<path d="M16.5 50.5A3.5 3 0 0 1 23.3 50.5Z" fill="#f5d97a"/>
<text x="31.9" y="56.4" font-size="13.5" fill="#c3c6ce" textLength="60.9" lengthAdjust="spacingAndGlyphs">Gold Spot</text>
<text x="98.3" y="56.4" font-size="13.5" fill="#c3c6ce" textLength="5.1" lengthAdjust="spacingAndGlyphs">/</text>
<text x="109.3" y="56.4" font-size="13.5" fill="#c3c6ce" textLength="65.3" lengthAdjust="spacingAndGlyphs">U.S. Dollar</text>
<text x="181.8" y="56.4" font-size="13.5" fill="#c3c6ce" text-anchor="middle" font-weight="bold">·</text>
<text x="188" y="56.4" font-size="13.5" fill="#c3c6ce" textLength="14.4" lengthAdjust="spacingAndGlyphs">4h</text>
<text x="207.8" y="56.4" font-size="13.5" fill="#c3c6ce" text-anchor="middle" font-weight="bold">·</text>
<text x="215" y="56.4" font-size="13.5" fill="#c3c6ce" textLength="93.4" lengthAdjust="spacingAndGlyphs">THINKMARKETS</text>
<path d="M319.5 46.3H329.8L326.8 51.3L329.8 56.3H319.5Z" fill="#f7525f"/>
<rect x="346.5" y="44" width="37" height="14" rx="7" fill="#1b2a2d"/>
<circle cx="356.4" cy="51.1" r="6.2" fill="#113a31"/>
<rect x="364" y="44.3" width="19.5" height="13.6" rx="6.8" fill="#4a1836"/>
<circle cx="356.4" cy="51.1" r="3.8" fill="#38aa8e"/>
<path d="M368 50Q370 48.3 372 49.6T376 49.2M368 53.4Q370 51.7 372 53T376 52.6" stroke="#cf4a80" stroke-width="1.8" fill="none"/>
<rect x="390" y="38.6" width="321" height="24.2" fill="#1c1b27" fill-opacity="0.45"/>
<text x="396" y="56.2" font-size="11.5" fill="#c8cad2" font-weight="bold" textLength="6.5" lengthAdjust="spacingAndGlyphs">O</text>
<text x="402.5" y="56.2" font-size="11.5" fill="#c8444f" textLength="46" lengthAdjust="spacingAndGlyphs">3,084.26</text>
<text x="455.7" y="56.2" font-size="11.5" fill="#c8cad2" font-weight="bold" textLength="7" lengthAdjust="spacingAndGlyphs">H</text>
<text x="462.5" y="56.2" font-size="11.5" fill="#c8444f" textLength="44.5" lengthAdjust="spacingAndGlyphs">3,136.72</text>
<text x="512.8" y="56.2" font-size="11.5" fill="#c8cad2" font-weight="bold" textLength="5.5" lengthAdjust="spacingAndGlyphs">L</text>
<text x="518.5" y="56.2" font-size="11.5" fill="#c8444f" textLength="45" lengthAdjust="spacingAndGlyphs">3,069.90</text>
<text x="570" y="56.2" font-size="11.5" fill="#c8cad2" font-weight="bold" textLength="6.5" lengthAdjust="spacingAndGlyphs">C</text>
<text x="576.5" y="56.2" font-size="11.5" fill="#c8444f" textLength="44" lengthAdjust="spacingAndGlyphs">3,071.17</text>
<text x="627" y="56.2" font-size="11.5" fill="#c8444f" textLength="34.5" lengthAdjust="spacingAndGlyphs">−13.10</text>
<text x="665.5" y="56.2" font-size="11.5" fill="#c8444f" textLength="42.5" lengthAdjust="spacingAndGlyphs">(−0.42%)</text>
<rect x="11.8" y="65.5" width="63.5" height="29" rx="4" fill="#131217" stroke="#7e3a3c" stroke-width="1.2"/>
<text x="43.8" y="79.2" font-size="11.5" fill="#d9454c" text-anchor="middle" textLength="45" lengthAdjust="spacingAndGlyphs">3,219.29</text>
<text x="43.5" y="90.4" font-size="9" fill="#b53d44" text-anchor="middle" textLength="22" lengthAdjust="spacingAndGlyphs">SELL</text>
<text x="91.6" y="85" font-size="10.5" fill="#d1d4dc" text-anchor="middle" font-weight="bold" textLength="18" lengthAdjust="spacingAndGlyphs">0.20</text>
<rect x="107.4" y="65.5" width="62" height="29" rx="4" fill="#131217" stroke="#3b3b8c" stroke-width="1.2"/>
<text x="138.6" y="79.2" font-size="11.5" fill="#4a58d8" text-anchor="middle" textLength="45" lengthAdjust="spacingAndGlyphs">3,219.49</text>
<text x="138.6" y="90.4" font-size="9" fill="#4550b8" text-anchor="middle" textLength="18.5" lengthAdjust="spacingAndGlyphs">BUY</text>
<text x="12.2" y="114.2" font-size="12" fill="#c3c6ce" textLength="108.8" lengthAdjust="spacingAndGlyphs">SMA20 &amp; SMA50 close</text>
<text x="128.6" y="114.2" font-size="12" fill="#3d4fc0" textLength="44.8" lengthAdjust="spacingAndGlyphs">3,116.46</text>
<text x="178" y="114.2" font-size="12" fill="#d95252" textLength="45" lengthAdjust="spacingAndGlyphs">3,083.85</text>
<rect x="9.9" y="123.6" width="25.2" height="16" rx="3" fill="none" stroke="#2f2e3a" stroke-width="1"/>
<path d="M19.5 134L22.5 131L25.5 134" stroke="#d1d4dc" stroke-width="1.3" fill="none"/>
<rect x="64" y="144.2" width="288" height="32.8" rx="2" fill="#1d1d20"/>
<circle cx="71.1" cy="155.8" r="1" fill="#55555c"/>
<circle cx="71.1" cy="160.9" r="1" fill="#55555c"/>
<circle cx="71.1" cy="165.6" r="1" fill="#55555c"/>
<circle cx="77" cy="155.8" r="1" fill="#55555c"/>
<circle cx="77" cy="160.9" r="1" fill="#55555c"/>
<circle cx="77" cy="165.6" r="1" fill="#55555c"/>
<path d="M91.6 161.1H99.6M104.4 161.1H111.6" stroke="#c8cad0" stroke-width="1.2"/><circle cx="102" cy="161.1" r="2.2" fill="none" stroke="#c8cad0" stroke-width="1.2"/>
<path d="M129 154.6V153.2H141.6V154.6M135.3 153.2V168.3M132.8 168.3H137.8" fill="none" stroke="#c8cad0" stroke-width="1.2"/>
<path d="M157.9 168.7L163.1 160.5L170.5 159L169.6 165.2ZM171.3 156.4L174.3 159.2L180.1 153.5" fill="none" stroke="#c8cad0" stroke-width="1.1" stroke-linejoin="round"/>
<circle cx="193.6" cy="154" r="1.9" fill="none" stroke="#c8cad0" stroke-width="1.1"/><circle cx="193.6" cy="159.9" r="1.9" fill="none" stroke="#c8cad0" stroke-width="1.1"/><circle cx="193.6" cy="168.3" r="1.9" fill="none" stroke="#c8cad0" stroke-width="1.1"/><circle cx="209.4" cy="159.9" r="1.9" fill="none" stroke="#c8cad0" stroke-width="1.1"/>
<path d="M195.5 154H211M195.5 159.9H207.5M195.5 168.3H211" stroke="#c8cad0" stroke-width="1.1"/>
<path d="M199 163.5h1M202 164.5h1M205 163.5h1M203 166h1" stroke="#c8cad0" stroke-width="0.9"/>
<circle cx="227.8" cy="153.3" r="1.9" fill="none" stroke="#c8cad0" stroke-width="1.1"/><circle cx="243" cy="153.3" r="1.9" fill="none" stroke="#c8cad0" stroke-width="1.1"/><circle cx="227.8" cy="168.3" r="1.9" fill="none" stroke="#c8cad0" stroke-width="1.1"/><circle cx="243" cy="168.3" r="1.9" fill="none" stroke="#c8cad0" stroke-width="1.1"/>
<path d="M229.7 153.3H241.1M229.7 168.3H241.1M227.8 155.2V166.4M243 155.2V166.4" stroke="#c8cad0" stroke-width="1.1"/>
<circle cx="260.4" cy="154" r="1.9" fill="none" stroke="#c8cad0" stroke-width="1.1"/><circle cx="260.4" cy="163.2" r="1.9" fill="none" stroke="#c8cad0" stroke-width="1.1"/><circle cx="260.4" cy="168.3" r="1.9" fill="none" stroke="#c8cad0" stroke-width="1.1"/><circle cx="276.4" cy="163.2" r="1.9" fill="none" stroke="#c8cad0" stroke-width="1.1"/>
<path d="M262.3 154H278M262.3 163.2H274.5M262.3 168.3H278" stroke="#c8cad0" stroke-width="1.1"/>
<path d="M266 158h1M269 157.5h1M272 158.5h1M275 157h1" stroke="#c8cad0" stroke-width="0.9"/>
<path d="M302.8 152V158.8M302.8 163.2V170.5" stroke="#c8cad0" stroke-width="1.2"/><circle cx="302.8" cy="161" r="2.2" fill="none" stroke="#c8cad0" stroke-width="1.2"/>
<path d="M337.4 151.2L332 157L330.4 162.1L326 167.3L332.5 170L340.3 166.5L346.8 161M332 157.4L340.3 166.5M330.4 162.1L336 167.2" fill="none" stroke="#c8cad0" stroke-width="1.1" stroke-linejoin="round"/>
<rect x="1101.1" y="533.4" width="19.3" height="18.5" rx="4.5" fill="#ffffff"/>
<text x="1105.2" y="555.5" font-size="24" fill="#0a0a0a" font-weight="bold">f</text>
<text x="1129.3" y="549.2" font-size="21" fill="#ffffff" textLength="136" lengthAdjust="spacingAndGlyphs" stroke="#1a1a22" stroke-width="0.3">@Jeremy Ong</text>
</svg>
</body></html>
